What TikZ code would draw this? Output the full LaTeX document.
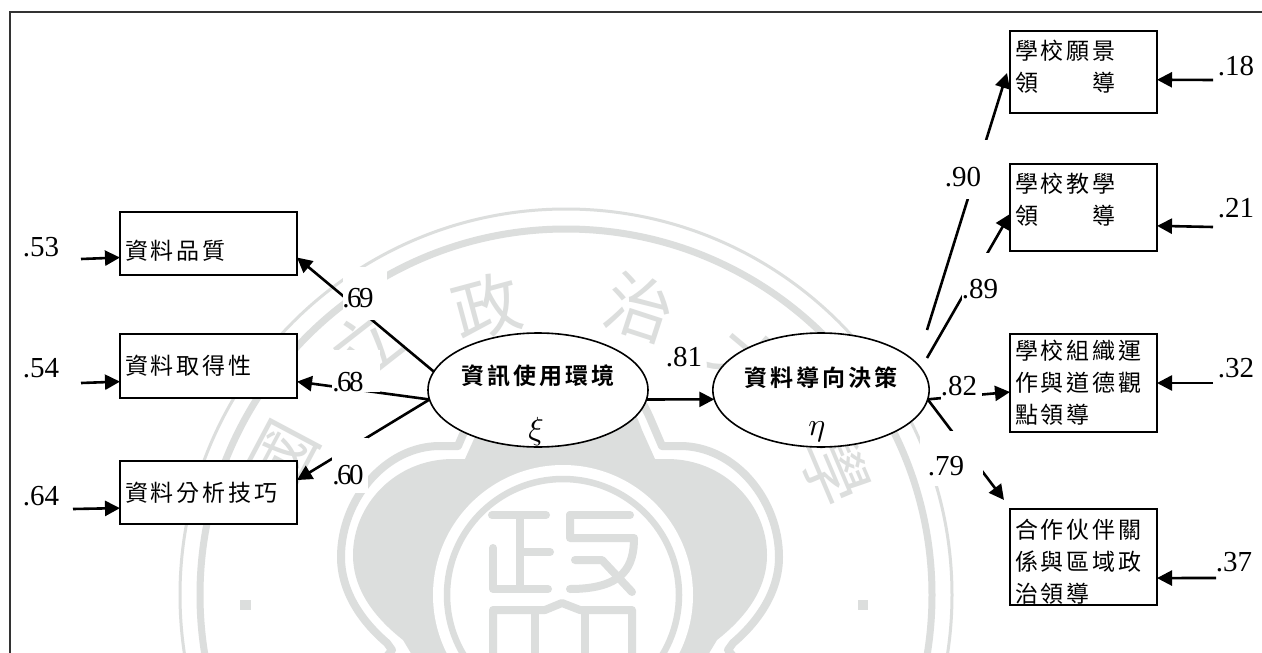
\documentclass[tikz,border=0pt]{standalone}
\usepackage{fontspec}
\usetikzlibrary{arrows.meta,shapes.geometric}
\setmainfont{Liberation Serif}
\newfontfamily\tightnum[LetterSpace=-9]{Liberation Serif}
\newfontfamily\zh[LetterSpace=13]{Noto Sans CJK TC}
\newfontfamily\zhb[LetterSpace=13,BoldFont={Noto Sans CJK TC Bold}]{Noto Sans CJK TC}
\newfontfamily\zhw{Noto Sans CJK TC}
\definecolor{wm}{HTML}{DCDEDD}
\tikzset{
  box/.style={draw=black,fill=white,line width=1.8pt,inner sep=0pt,outer sep=0pt,inner xsep=5pt,
    align=left,font=\zh\fontsize{23}{32}\selectfont},
  latent/.style={draw=black,fill=white,line width=1.6pt,ellipse,inner sep=0pt,outer sep=0pt,
    minimum height=114pt,font=\zhb\bfseries\fontsize{23}{26}\selectfont},
  num/.style={inner sep=0pt,font=\fontsize{29}{29}\selectfont},
  tnum/.style={inner sep=0pt,font=\tightnum\fontsize{29}{29}\selectfont},
  arr/.style={line width=2.6pt,-{Triangle[length=15pt,width=15pt]}},
  wmtext/.style={text=wm,inner sep=0pt,font=\zhw\fontsize{68}{68}\selectfont},
  wmline/.style={draw=wm,line width=8pt,line cap=round,line join=round},
  gapmask/.style={fill=white,draw=none},
  greek/.style={inner sep=0pt}
}
\begin{document}
\begin{tikzpicture}[x=1pt,y=-1pt]
\useasboundingbox (0,0) rectangle (1262,653);
\clip (0,0) rectangle (1262,653);
\fill[white] (0,0) rectangle (1262,653);
% watermark
\draw[wm,line width=3pt] (566,595) circle[radius=386];
\draw[wm,line width=7pt] (566,595) circle[radius=366];
\node[wmtext,rotate=62] (w1) at (283,457) {國};
\node[wmtext,rotate=38] (w2) at (365,345) {立};
\node[wmtext,rotate=15] (w3) at (487,307) {政};
\node[wmtext,rotate=-18] (w4) at (640,307) {治};
\node[wmtext,rotate=-40] (w5) at (748,362) {大};
\node[wmtext,rotate=-67] (w6) at (835,470) {學};
\fill[wm] (240,600) rectangle (251,610);
\fill[wm] (858,600) rectangle (868,610);
% plum blossom: outline
\draw[wm,line width=8pt,line join=round]
  (560,345) .. controls (610,345) and (635,385) .. (650,418)
  -- (662,446) -- (680,446)
  .. controls (735,446) and (779,500) .. (779,557)
  .. controls (779,590) and (760,620) .. (733,643)
  -- (728,650) -- (760,690) -- (360,690) -- (392,650) -- (387,643)
  .. controls (360,620) and (341,590) .. (341,557)
  .. controls (341,500) and (385,446) .. (440,446)
  -- (458,446) -- (470,418)
  .. controls (485,385) and (510,345) .. (560,345) -- cycle;
% plum blossom: fill
\fill[wm]
  (560,360) .. controls (600,360) and (630,395) .. (642,430)
  -- (655,459) -- (667,459)
  .. controls (725,459) and (767,505) .. (767,555)
  .. controls (767,590) and (745,618) .. (717,640)
  -- (705,660) -- (415,660) -- (403,640)
  .. controls (375,618) and (353,590) .. (353,555)
  .. controls (353,505) and (395,459) .. (453,459)
  -- (465,459) -- (478,430)
  .. controls (490,395) and (520,360) .. (560,360) -- cycle;
\fill[white] (563,595) circle[radius=130];
\draw[wm,line width=6.5pt] (563,595) circle[radius=116];
% seal character
\draw[wmline] (492,515) -- (546,515) (520,515) -- (520,588) (520,552) -- (550,552);
\draw[wmline] (493,548) -- (493,589) -- (548,589);
\draw[wmline] (570,515) -- (630,515);
\draw[wmline] (570,515) -- (570,538) -- (634,538) .. controls (634,565) and (625,589) .. (570,589);
\draw[wmline] (575,560) -- (602,560) -- (632,592);
\draw[wmline] (493,690) -- (493,610) -- (545,610) -- (562,603) -- (580,610) -- (632,610) -- (632,690);
\draw[wmline] (535,610) -- (535,690) (585,610) -- (585,690);
% frame
\draw[black!80,line width=1.6pt] (10,660) -- (10,12) -- (1270,12);
% boxes
\node[box,minimum width=177pt,minimum height=63pt,text width=167pt] (b1) at (208.5,243.5) {\rule{0pt}{34pt}資料品質};
\node[box,minimum width=177pt,minimum height=64pt,text width=167pt] (b2) at (208.5,366) {資料取得性};
\node[box,minimum width=177pt,minimum height=63pt,text width=167pt] (b3) at (208.5,492.5) {資料分析技巧};
\node[box,minimum width=147pt,minimum height=82pt,text width=137pt] (r1) at (1083.5,72) {學校願景\\領　　導\rule[-13pt]{0pt}{1pt}};
\node[box,minimum width=147pt,minimum height=87pt,text width=137pt] (r2) at (1083.5,207.5) {學校教學\\領　　導\rule[-18pt]{0pt}{1pt}};
\node[box,minimum width=147pt,minimum height=98pt,text width=137pt] (r3) at (1083.5,383) {學校組織運\\作與道德觀\\點領導};
\node[box,minimum width=147pt,minimum height=96pt,text width=137pt] (r4) at (1083.5,557) {\rule{0pt}{28pt}合作伙伴關\\係與區域政\\治領導};
% latent variables
\node[latent,minimum width=220pt] (xi) at (538,390) {資訊使用環境\rule[-30pt]{0pt}{1pt}};
\node[latent,minimum width=212pt] (eta) at (821,390) {資料導向決策\rule[-26pt]{0pt}{1pt}};
\node[greek] (xisym) at (536,431) {\scalebox{3.2}{$\xi$}};
\node[greek] (etasym) at (817,432) {\scalebox{3.2}{$\eta$}};
% free ends
\coordinate (e1) at (81,259);
\coordinate (e2) at (81,383);
\coordinate (e3) at (73,509);
\coordinate (f1) at (1213,80);
\coordinate (f2) at (1213,227);
\coordinate (f3) at (1213,383);
\coordinate (f4) at (1216,578);
\coordinate (c90) at (927,330);
\coordinate (c89) at (927,358);
\coordinate (t90) at (1007,73);
\coordinate (t79) at (1004,500);
% error arrows
\draw[arr] (e1) -- (b1.189.9);
\draw[arr] (e2) -- (b2.190.9);
\draw[arr] (e3) -- (b3.190.6);
\draw[arr] (f1) -- (r1.-6.2);
\draw[arr] (f2) -- (r2.-14.9);
\draw[arr] (f3) -- (r3.east);
\draw[arr] (f4) -- (r4.-16);
% structural arrows
\draw[arr] (xi.170.7) -- (b1.-9.9);
\draw[arr] (xi.185.2) -- (b2.-10.9);
\draw[arr] (xi.185.2) -- (b3.8);
\draw[arr] (xi.-5.3) -- (eta.185.4);
\draw[arr] (c90) -- (t90);
\draw[arr] (c89) -- (r2.185.8);
\draw[arr] (eta.-5.4) -- (r3.187);
\draw[arr] (eta.-5.4) -- (t79);
% white patches around the coefficients
\fill[gapmask] (343,267) rectangle (387,320);
\fill[gapmask] (332,350) rectangle (380,392);
\fill[gapmask] (332,438) rectangle (368,493);
\fill[gapmask] (945,140) rectangle (992,199);
\fill[gapmask] (962,253) rectangle (1005,310);
\fill[gapmask] (941,368) rectangle (982,412);
\fill[gapmask] (920,431) rectangle (983,486);
% coefficients
\node[num] (n53) at (41,247) {.53};
\node[num] (n54) at (41,368) {.54};
\node[num] (n64) at (41,496) {.64};
\node[tnum] (n69) at (358,298) {.69};
\node[tnum] (n68) at (348,382) {.68};
\node[tnum] (n60) at (348,475) {.60};
\node[num] (n81) at (684,357) {.81};
\node[num] (n90) at (963,177) {.90};
\node[num] (n89) at (980,289) {.89};
\node[num] (n82) at (959,386) {.82};
\node[num] (n79) at (946,466) {.79};
\node[num] (n18) at (1236,66) {.18};
\node[num] (n21) at (1236,208) {.21};
\node[num] (n32) at (1236,368) {.32};
\node[num] (n37) at (1234,562) {.37};
\end{tikzpicture}
\end{document}
